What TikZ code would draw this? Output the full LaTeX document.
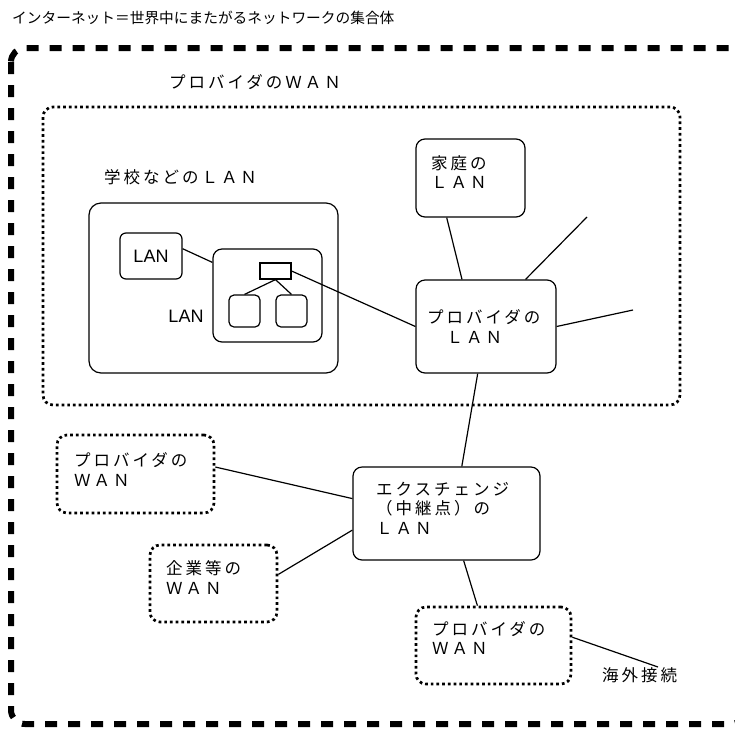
\documentclass[tikz,border=0pt]{standalone}
\usepackage{fontspec}
\setmainfont{Noto Sans CJK JP}
\newfontfamily\jp[LetterSpace=18]{Noto Sans CJK JP}
\newfontfamily\lanfont{Liberation Sans}
\usepackage{tikz}

\begin{document}
\begin{tikzpicture}[x = 1pt, y = -1pt,
  lan/.style = {draw, line width = 1.2pt, rounded corners = 9pt, inner sep = 0pt},
  wan/.style = {draw, line width = 2.7pt, dash pattern = on 2.7pt off 3pt, rounded corners = 10pt, inner sep = 0pt},
  jtext/.style = {font = \jp\fontsize{16.5}{19.5}\selectfont, inner sep = 0pt, align = left, anchor = west},
  link/.style = {line width = 1.2pt}]
\useasboundingbox (0,0) rectangle (735,729);
\node[font = \fontsize{14.7}{18}\selectfont, inner sep = 0pt, anchor = west] (title) at (12,18) {インターネット＝世界中にまたがるネットワークの集合体};
\draw[line width = 6pt, dash pattern = on 12pt off 11pt, rounded corners = 14pt] (11,48) rectangle (745,724);

% provider WAN and the LANs in it
\node[wan, minimum width = 637, minimum height = 298] (provwan) at (361.5,256) {};
\node[jtext] (provwantxt) at (169,82) {プロバイダのＷＡＮ};
\node[lan, minimum width = 249, minimum height = 170, rounded corners = 12pt] (school) at (213.5,288) {};
\node[jtext] (schooltxt) at (104,177) {学校などのＬＡＮ};
\node[lan, rounded corners = 6pt, minimum width = 62, minimum height = 46, font = \lanfont\fontsize{18}{20}\selectfont] (slan) at (151,256) {LAN};
\node[lan, minimum width = 109, minimum height = 93] (inner) at (267.5,295.5) {};
\node[font = \lanfont\fontsize{18}{20}\selectfont, inner sep = 0pt] (innertxt) at (186,316) {LAN};
\node[draw, line width = 1.2pt, minimum width = 31, minimum height = 16, inner sep = 0pt] (hub) at (275.5,271) {};
\node[lan, rounded corners = 5pt, minimum width = 31, minimum height = 32] (sub1) at (244.5,311) {};
\node[lan, rounded corners = 5pt, minimum width = 31, minimum height = 32] (sub2) at (291.5,311) {};
\node[lan, minimum width = 109, minimum height = 78] (home) at (470.5,178) {};
\node[jtext] (hometxt) at (431,172) {家庭の\\ＬＡＮ};
\node[lan, minimum width = 140, minimum height = 93] (plan) at (486,326.5) {};
\node[jtext] (plantxt) at (427,326.5) {プロバイダの\\　ＬＡＮ};
\coordinate (endA) at (587,217);
\coordinate (endB) at (633,310);

% exchange and the WANs round it
\node[lan, minimum width = 187, minimum height = 93] (exch) at (446.5,513.5) {};
\node[jtext] (exchtxt) at (376,508) {エクスチェンジ\\（中継点）の\\ＬＡＮ};
\node[wan, minimum width = 157, minimum height = 78] (wanA) at (135.5,474) {};
\node[jtext] (wanAtxt) at (74,469.5) {プロバイダの\\ＷＡＮ};
\node[wan, minimum width = 127, minimum height = 77] (corp) at (213.5,583.5) {};
\node[jtext] (corptxt) at (166,577.5) {企業等の\\ＷＡＮ};
\node[wan, minimum width = 155, minimum height = 77] (wanC) at (493.5,645.5) {};
\node[jtext] (wanCtxt) at (432,638) {プロバイダの\\ＷＡＮ};
\node[jtext] (abroad) at (602,675) {海外接続};
\coordinate (endC) at (658,667);

\draw[link] (slan.13) -- (inner.149);
\draw[link] (hub.south) -- (sub1.north);
\draw[link] (hub.south) -- (sub2.north);
\draw[link] (hub.east) -- (plan.west);
\draw[link] (home.239) -- (plan.117);
\draw[link] (plan.50) -- (endA);
\draw[link] (plan.east) -- (endB);
\draw[link] (plan.260) -- (exch.72);
\draw[link] (wanA.5) -- (exch.171);
\draw[link] (corp.8) -- (exch.190);
\draw[link] (exch.290) -- (wanC.112);
\draw[link] (wanC.6) -- (endC);
\end{tikzpicture}
\end{document}
